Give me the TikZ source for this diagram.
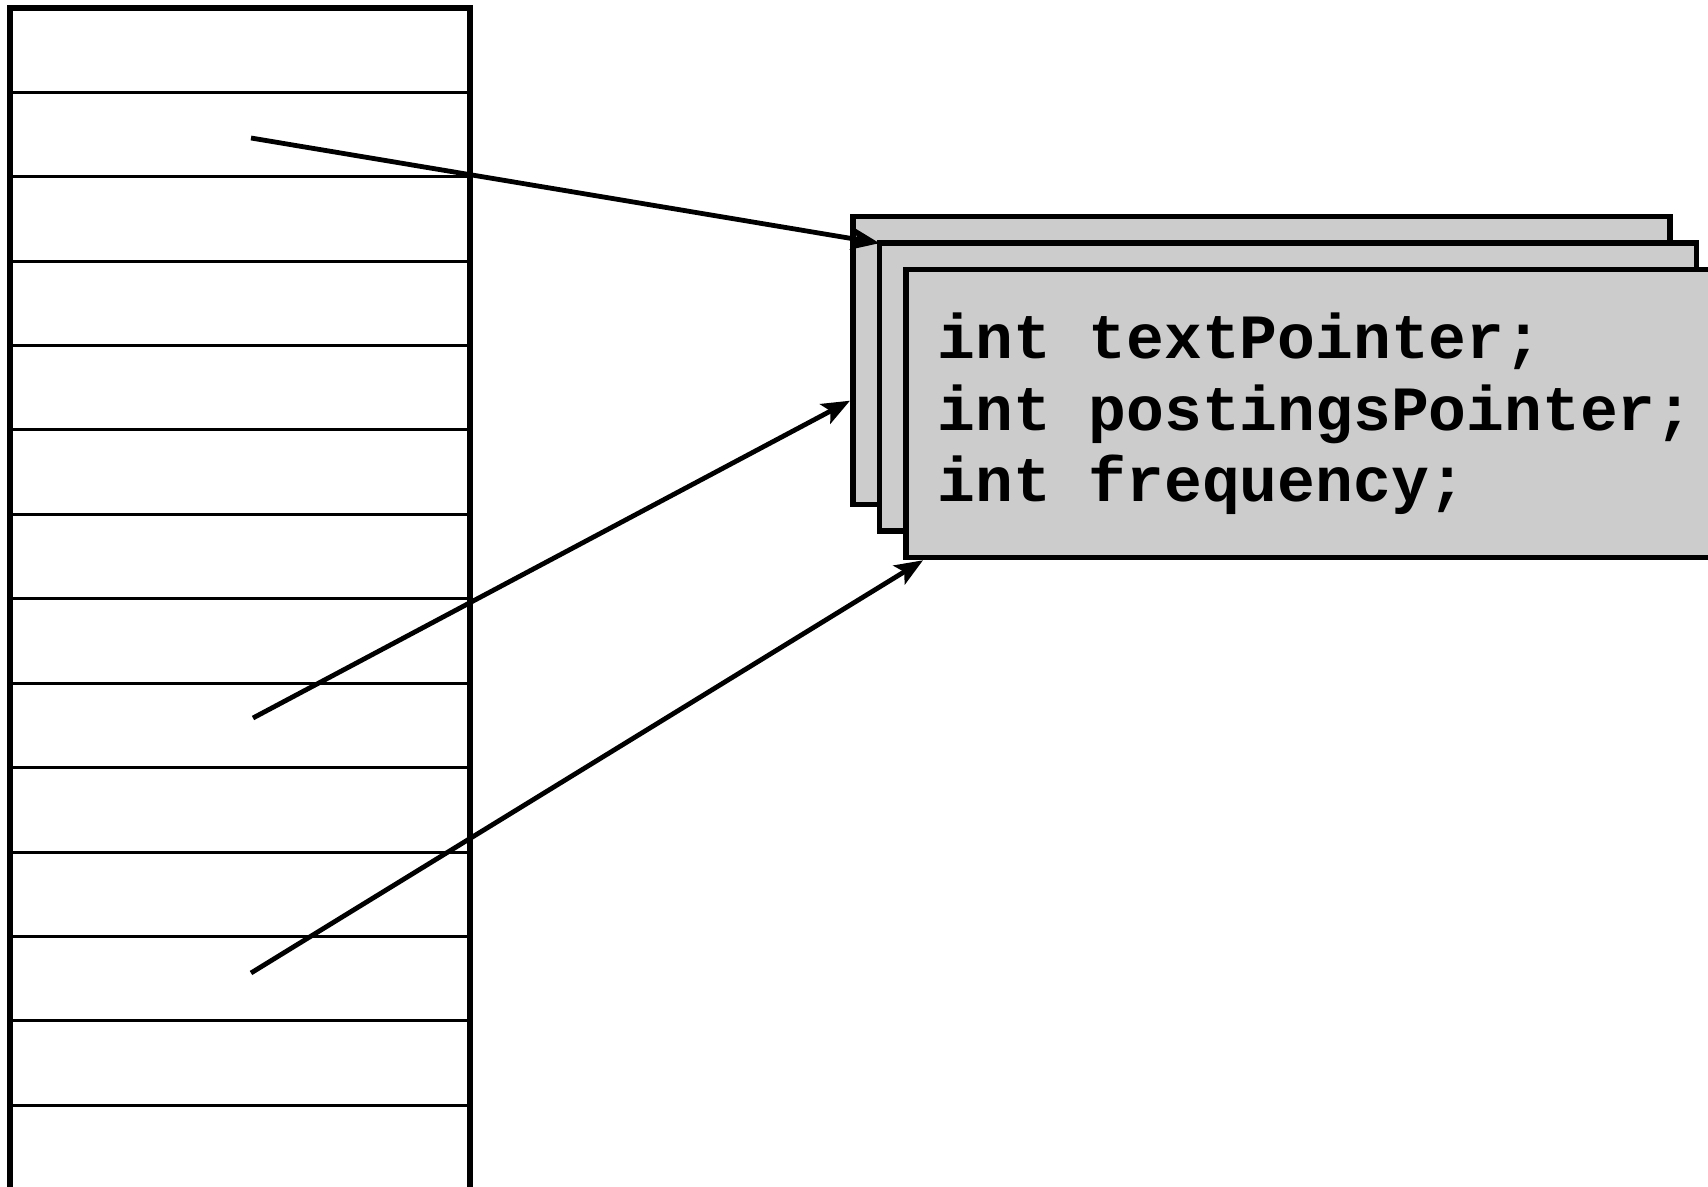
\documentclass[tikz,border=0pt]{standalone}
\usepackage{fontspec}
\usetikzlibrary{arrows.meta,calc}
\newfontfamily\codefont{Liberation Mono}
\definecolor{cardfill}{HTML}{CCCCCC}
\begin{document}
\begin{tikzpicture}[x=0.5pt,y=-0.5pt,
  rowcell/.style={draw,line width=1.5pt,minimum width=230pt,minimum height=42.2pt,inner sep=0pt,outer sep=0pt},
  border/.style={line width=2.8pt},
  card/.style={draw,fill=cardfill,line width=2.7pt,minimum width=408.5pt,minimum height=143.8pt,inner sep=0pt,outer sep=0pt},
  codeline/.style={anchor=base west,inner sep=0pt,font=\codefont\bfseries\fontsize{31.5}{36}\selectfont},
  ptr/.style={line width=2.4pt,-{Stealth[length=14pt,width=11pt,inset=3pt]}}]
\useasboundingbox (0,0) rectangle (1708,1187);

% table of entries
\foreach \i in {1,...,14}
  \node[rowcell] (r\i) at (240,{8+84.4*(\i-0.5)}) {};
\draw[border] (r14.south west) -- (r1.north west) -- (r1.north east) -- (r14.south east);

% stacked records
\node[card] (back) at (1261.5,360.5) {};
\node[card] (mid) at (1288,387) {};
\node[card] (front) at (1314.5,413.5) {};

\node[codeline] (l1) at (937,359) {int textPointer;};
\node[codeline] (l2) at (937,430) {int postingsPointer;};
\node[codeline] (l3) at (937,502) {int frequency;};

% pointers from table entries to records
\coordinate (s1) at (251,138);
\coordinate (s2) at (253,718);
\coordinate (s3) at (251,973);
\coordinate (e2) at ($(back.north west)+(-3,184)$);
\coordinate (e3) at ($(front.south west)+(17,3)$);
\draw[ptr] (s1) -- (mid.north west);
\draw[ptr] (s2) -- (e2);
\draw[ptr] (s3) -- (e3);
\end{tikzpicture}
\end{document}
